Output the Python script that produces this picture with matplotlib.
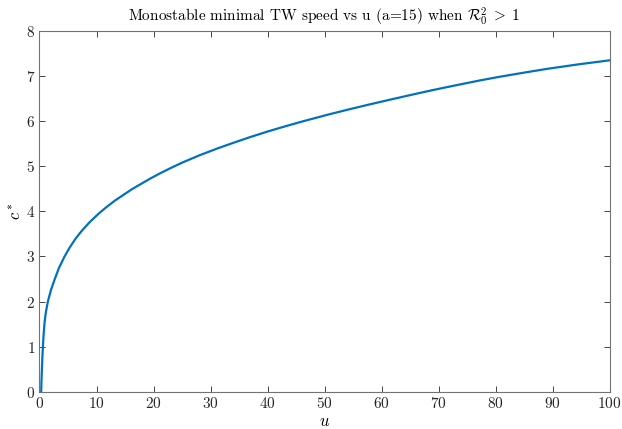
import numpy as np
import matplotlib
matplotlib.use('Agg')
import matplotlib.pyplot as plt

plt.rcParams['font.family'] = 'serif'
plt.rcParams['font.serif'] = ['cmr10']
plt.rcParams['mathtext.fontset'] = 'cm'
plt.rcParams['axes.formatter.use_mathtext'] = True

# values
u = [0.3, 0.35, 0.42, 0.5, 0.6, 0.72, 0.88, 1.1, 1.47, 2.0, 2.63, 3.4, 4.4,
     5.26, 6.3, 7.43, 8.8, 10.3, 11.7, 13.3, 16.2, 19.4, 21.1, 23.0, 25.2,
     28.0, 31.1, 34.0, 36.9, 40.0, 42.8, 46.0, 50.6, 53.9, 57.5, 60.9, 65.6,
     69.0, 72.6, 77.3, 80.5, 84.2, 89.0, 94.5, 100]
c_star = [0.0, 0.25, 0.48, 0.75, 1.0, 1.26, 1.52, 1.75, 2.0, 2.25, 2.48,
          2.74, 3.0, 3.19, 3.39, 3.57, 3.76, 3.94, 4.09, 4.245, 4.49, 4.725,
          4.84, 4.96, 5.09, 5.24, 5.39, 5.52, 5.645, 5.77, 5.875, 5.99, 6.145,
          6.25, 6.36, 6.46, 6.595, 6.69, 6.785, 6.905, 6.98, 7.06, 7.16, 7.26,
          7.35]

xticks = np.arange(0, 101, 10)
yticks = np.arange(0, 9, 1)

fig = plt.figure(figsize=(6.22, 4.29), dpi=100)
ax = fig.add_axes([0.0635, 0.087, 0.9165, 0.8407])

ax.plot(u, c_star, color='#0072BD', linewidth=1.6)

ax.set_xlim(0, 100)
ax.set_ylim(0, 8)
ax.set_xticks(xticks)
ax.set_yticks(yticks)
ax.tick_params(direction='in', top=True, right=True, length=4, width=0.6,
               labelsize=11, colors='0.15', pad=3)
for s in ax.spines.values():
    s.set_color('0.45')
    s.set_linewidth(0.8)

ax.set_title(r'Monostable minimal TW speed vs u (a=15) when $\mathcal{R}_0^2 \;>\; 1$',
             fontsize=11, pad=7)
ax.set_xlabel(r'$u$', fontsize=12, labelpad=2)
ax.set_ylabel(r'$c^*$', fontsize=12, labelpad=2)

fig.savefig('out.png', dpi=100)
